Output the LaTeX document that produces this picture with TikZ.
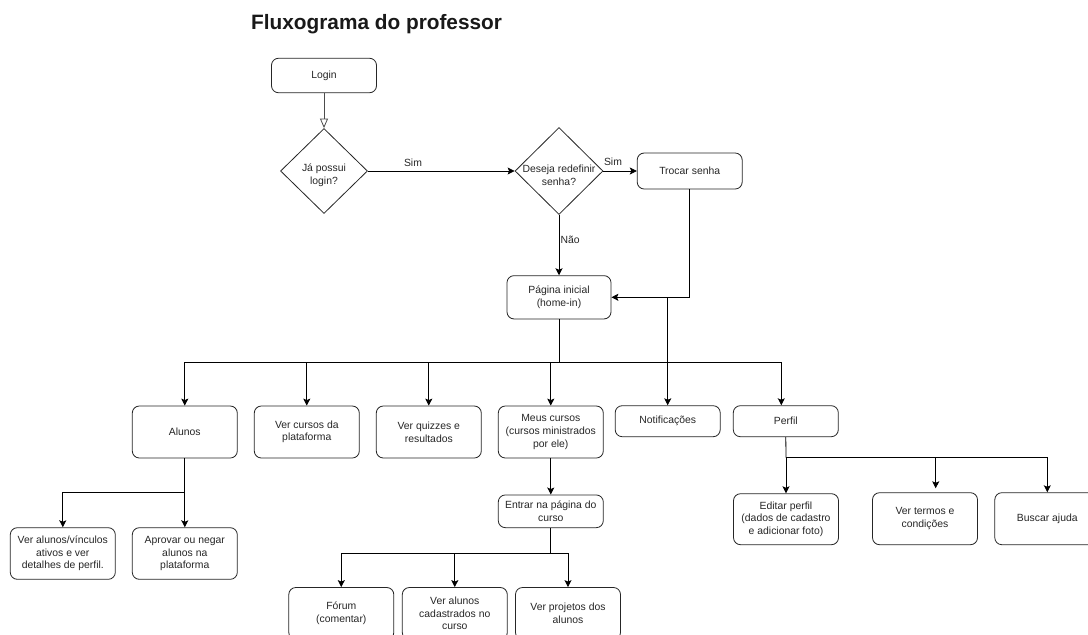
\documentclass[tikz,border=0pt]{standalone}
\usepackage{fontspec}
\setmainfont{Liberation Sans}
\usetikzlibrary{shapes.geometric,arrows.meta}
\newcommand\fsz{\fontsize{10.4pt}{12.6pt}\selectfont}
\tikzset{
  box/.style={draw=black!85, line width=0.8pt, rounded corners=7pt, rectangle,
    minimum width=105pt, minimum height=52pt, inner sep=0pt, align=center,
    font=\fsz, text=black!85},
  dia/.style={draw=black!85, line width=0.8pt, diamond, inner sep=0pt},
  txt/.style={font=\fsz, text=black!85, align=center, inner sep=0pt},
  arr/.style={-{Stealth[length=7pt,width=7pt,inset=1.5pt]}, line width=0.8pt, draw=black},
  ln/.style={line width=0.8pt, draw=black},
  hollow/.style={-{Triangle[open,length=9.5pt,width=8pt]}, line width=0.8pt, draw=black!70},
}
\begin{document}
\begin{tikzpicture}[x=1pt,y=-1pt]
\useasboundingbox (0,0) rectangle (1088,635);
\clip (0,0) rectangle (1088,635);
\fill[white] (0,0) rectangle (1088,635);

% title
\node[anchor=base west, inner sep=0pt, font=\fontsize{20.8pt}{24pt}\selectfont\bfseries, text=black!90] (title) at (251,29.5) {Fluxograma do professor};

% top part
\node[box, minimum height=34.5pt] (login) at (324,75.5) {Login};
\node[dia, minimum width=87pt, minimum height=85pt] (d1) at (324,171) {};
\node[txt] (d1t) at (324,175) {Já possui\\login?};
\node[dia, minimum width=88pt, minimum height=87pt] (d2) at (559,171) {};
\node[txt] (d2t) at (559,175) {Deseja redefinir\\senha?};
\node[box, minimum height=36pt] (troca) at (689.7,171) {Trocar senha};
\node[box, minimum width=104pt, minimum height=43.3pt] (pag) at (559,297.3) {Página inicial\\(home-in)};

\node[txt] (sim1) at (413,162.5) {Sim};
\node[txt] (sim2) at (613,162) {Sim};
\node[txt, anchor=west] (nao) at (560.5,240) {Não};

% level 2
\node[box] (alunos) at (184.8,432) {Alunos};
\node[box] (vcursos) at (306.8,432) {Ver cursos da\\plataforma};
\node[box] (vquiz) at (428.8,432) {Ver quizzes e\\resultados};
\node[box] (meus) at (550.8,432) {Meus cursos\\(cursos ministrados\\por ele)};
\node[box, minimum height=31pt] (notif) at (667.7,421.2) {Notificações};
\node[box, minimum height=31pt] (perfil) at (785.8,421.2) {Perfil};

% level 3
\node[box, minimum height=51.6pt] (valunos) at (62.8,553.5) {Ver alunos/vínculos\\ativos e ver\\detalhes de perfil.};
\node[box, minimum height=51.6pt] (aprovar) at (184.8,553.5) {Aprovar ou negar\\alunos na\\plataforma};
\node[box, minimum height=32.7pt] (entrar) at (550.8,511.3) {Entrar na página do\\curso};
\node[box, minimum height=51pt] (editar) at (786,519.2) {Editar perfil\\(dados de cadastro\\e adicionar foto)};
\node[box] (termos) at (925,518.7) {Ver termos e\\condições};
\node[box] (buscar) at (1047.3,518.7) {Buscar ajuda};

% level 4
\node[box] (forum) at (341.3,613.5) {Fórum\\(comentar)};
\node[box] (vcad) at (454.8,613.5) {Ver alunos\\cadastrados no\\curso};
\node[box] (vproj) at (568,613.5) {Ver projetos dos\\alunos};

% connectors top
\draw[hollow] (login) -- (d1);
\draw[arr] (d1) -- (d2);
\draw[arr] (d2) -- (troca);
\draw[arr] (d2) -- (pag);
\draw[arr] (troca.south) |- (pag.east);
\coordinate (j) at (notif.north |- pag.east);
\draw[arr] (j) -- (notif.north);

% bus level 2
\coordinate (bus) at (559,362.7);
\draw[ln] (pag.south) -- (bus);
\draw[arr] (bus) -| (alunos.north);
\draw[arr] (bus) -| (vcursos.north);
\draw[arr] (bus) -| (vquiz.north);
\draw[arr] (bus) -| (meus.north);
\draw[arr] (bus) -| ([xshift=-4.5pt]perfil.north);

% alunos children
\coordinate (ab) at (184.8,492.7);
\draw[ln] (alunos.south) -- (ab);
\draw[arr] (ab) -| (valunos.north);
\draw[arr] (ab) -- (aprovar.north);

% meus -> entrar
\draw[arr] (meus) -- (entrar);
\coordinate (eb) at (550.8,553.3);
\draw[ln] (entrar.south) -- (eb);
\draw[arr] (eb) -| (forum.north);
\draw[arr] (eb) -| (vcad.north);
\draw[arr] (eb) -| (vproj.north);

% perfil children
\coordinate (pb) at (786,457.7);
\draw[ln] (perfil.south) -- (pb);
\draw[arr] (pb) -- (editar.north);
\draw[arr, shorten >=4pt] (pb) -| ([xshift=10.7pt]termos.north);
\draw[arr] (pb) -| (buscar.north);
\end{tikzpicture}
\end{document}
